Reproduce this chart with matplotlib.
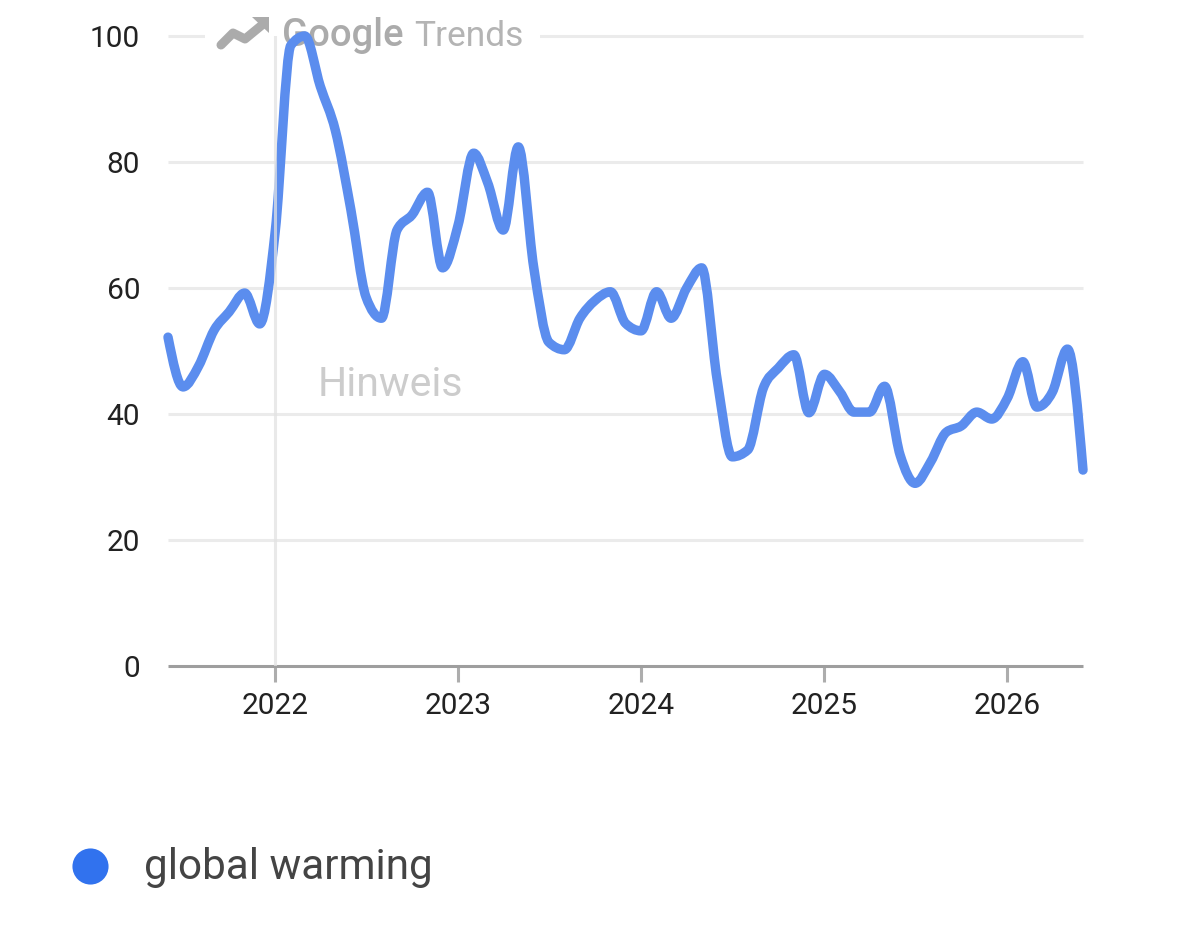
import matplotlib
matplotlib.use("Agg")
import matplotlib.dates as mdates
import matplotlib.pyplot as plt
import numpy as np
import pandas as pd
from matplotlib.patches import PathPatch, Polygon, Rectangle
from matplotlib.path import Path

plt.rcParams['font.family'] = ['Roboto', 'DejaVu Sans']

# monthly values
months = pd.date_range("2021-06-01", periods=61, freq="MS")
values = [52.2, 44.3, 47.6, 53.3, 56.2, 59.2, 54.3, 69, 98.5, 100,
          92, 85, 72.4, 58.6, 55.2, 69.2, 71.6, 75.2, 63.2, 70,
          81.4, 76.7, 69.2, 82.4, 63.2, 51.4, 50.2, 55.2, 58, 59.4,
          54.4, 53.2, 59.4, 55.2, 60, 63.2, 45.4, 33.2, 34.3, 44.1,
          47.3, 49.4, 40.2, 46.3, 43.5, 40.3, 40.3, 44.4, 33.5, 29,
          32.4, 37.1, 38.1, 40.3, 39.2, 42.5, 48.3, 41.1, 43.5, 50.3,
          31.1]
y_ticks = [0, 20, 40, 60, 80, 100]
years = [2022, 2023, 2024, 2025, 2026]
series_name = "global warming"

W, H = 1179, 931


def px(x, y):
    # picture pixels to figure fractions
    return x / W, 1 - y / H


def smooth_path(xs, ys):
    # monotone cubic through the points, same kind of curve the site uses
    xs = np.asarray(xs, dtype=float)
    ys = np.asarray(ys, dtype=float)
    h = np.diff(xs)
    s = np.diff(ys) / h
    m = np.zeros(len(xs))
    for i in range(1, len(xs) - 1):
        if s[i - 1] * s[i] > 0:
            p = (s[i - 1] * h[i] + s[i] * h[i - 1]) / (h[i - 1] + h[i])
            m[i] = np.sign(s[i]) * min(abs(s[i - 1]), abs(s[i]), 0.5 * abs(p)) * 2
    m[0] = (3 * s[0] - m[1]) / 2
    m[-1] = (3 * s[-1] - m[-2]) / 2
    verts = [(xs[0], ys[0])]
    codes = [Path.MOVETO]
    for i in range(len(h)):
        verts.append((xs[i] + h[i] / 3, ys[i] + m[i] * h[i] / 3))
        verts.append((xs[i + 1] - h[i] / 3, ys[i + 1] - m[i + 1] * h[i] / 3))
        verts.append((xs[i + 1], ys[i + 1]))
        codes += [Path.CURVE4] * 3
    return Path(verts, codes)


fig = plt.figure(figsize=(W / 100, H / 100), dpi=100)
l, b = px(168, 666)
ax = fig.add_axes([l, b, 915 / W, 630 / H])

x_nums = mdates.date2num(months)
ax.set_xlim(x_nums[0], x_nums[-1])
ax.set_ylim(0, 100)

for v in y_ticks[1:]:
    ax.axhline(v, color="#ebebeb", lw=2.2, zorder=1, clip_on=False, solid_capstyle="butt")

# white gap in the top gridline for the logo
x0, y0 = px(205, 70)
x1, y1 = px(540, 5)
ax.add_patch(Rectangle((x0, y0), x1 - x0, y1 - y0, transform=fig.transFigure,
                       fc="white", ec="none", zorder=1.5, clip_on=False))

# logo
logo = np.array([px(221, 45), px(233, 33), px(245, 39), px(262, 25)])
ax.plot(logo[:, 0], logo[:, 1], color="#ababab", lw=6.5, transform=fig.transFigure,
        solid_capstyle="round", solid_joinstyle="round", zorder=2, clip_on=False)
ax.add_patch(Polygon([px(252, 17), px(269, 17), px(269, 33)], closed=True,
                     transform=fig.transFigure, fc="#ababab", ec="none", zorder=2, clip_on=False))
tx, ty = px(282, 36)
ax.text(tx, ty, "Google", fontsize=27.5, color="#ababab", transform=fig.transFigure,
        va="center", ha="left", zorder=2, fontweight="medium", clip_on=False)
tx, ty = px(414, 36)
ax.text(tx, ty, "Trends", fontsize=25.5, color="#b4b4b4", transform=fig.transFigure,
        va="center", ha="left", zorder=2, clip_on=False)

tx, ty = px(318, 385)
ax.text(tx, ty, "Hinweis", fontsize=29.5, color="#cccccc", transform=fig.transFigure,
        va="center", ha="left", zorder=2)

line = PathPatch(smooth_path(x_nums, values), fc="none", ec="#5b8dee", lw=6.8,
                 capstyle="round", joinstyle="round", zorder=3, clip_on=False)
ax.add_patch(line)

ax.axvline(mdates.date2num(pd.Timestamp("2022-01-01")), color="#e2e2e2", lw=2.2,
           zorder=4, alpha=0.75)

for s in ["top", "left", "right"]:
    ax.spines[s].set_visible(False)
ax.spines["bottom"].set_color("#9e9e9e")
ax.spines["bottom"].set_linewidth(2.2)
ax.spines["bottom"].set_capstyle("butt")

ax.set_yticks(y_ticks)
ax.set_yticklabels([str(v) for v in y_ticks])
ax.tick_params(axis="y", length=0, pad=20, labelsize=21.5, labelcolor="#222222")
ax.set_xticks([mdates.date2num(pd.Timestamp(f"{y}-01-01")) for y in years])
ax.set_xticklabels([str(y) for y in years])
ax.tick_params(axis="x", length=11.5, width=2.2, color="#adadad", pad=7.5,
               labelsize=21.5, labelcolor="#222222")

# legend
lx, ly = px(90, 866)
fig.add_artist(plt.Line2D([lx], [ly], marker="o", ms=26, color="#3172ee", mec="none", ls="none"))
tx, ty = px(144, 868)
fig.text(tx, ty, series_name, fontsize=30.4, color="#444444", va="center", ha="left")

fig.savefig("out.png", dpi=100)
